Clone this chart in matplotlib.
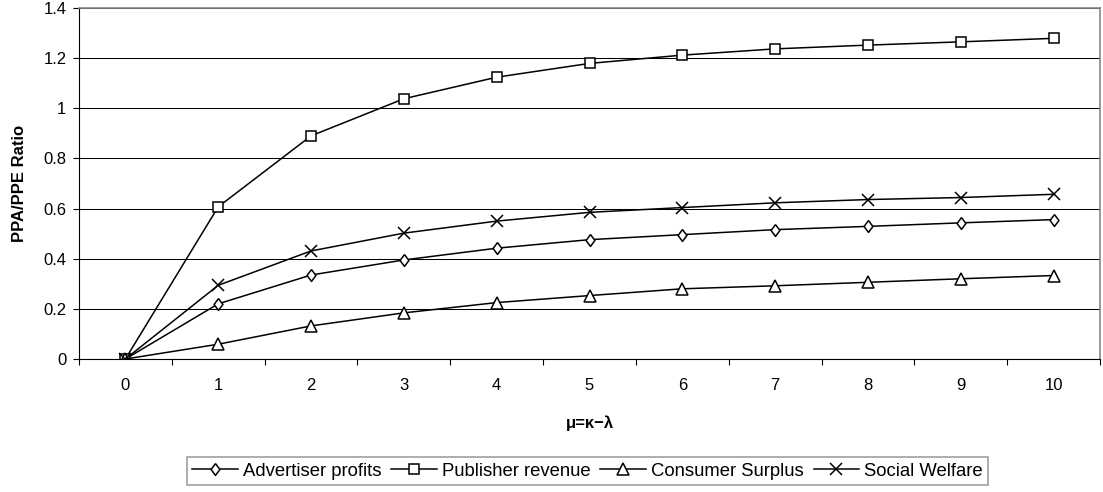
import matplotlib.pyplot as plt
import numpy as np

plt.rcParams['font.family'] = ['Liberation Sans', 'DejaVu Sans']

mu = [0, 1, 2, 3, 4, 5, 6, 7, 8, 9, 10]
advertiser = [0, 0.22, 0.335, 0.395, 0.442, 0.476, 0.496, 0.516, 0.529, 0.543, 0.556]
publisher = [0, 0.607, 0.89, 1.038, 1.124, 1.179, 1.212, 1.237, 1.252, 1.265, 1.279]
consumer = [0, 0.059, 0.132, 0.184, 0.225, 0.253, 0.28, 0.292, 0.306, 0.32, 0.333]
welfare = [0, 0.294, 0.431, 0.502, 0.55, 0.585, 0.604, 0.623, 0.636, 0.644, 0.657]

# slightly tall diamond, like the original
diamond = [(0, 1), (0.75, 0), (0, -1), (-0.75, 0), (0, 1)]

series = [
    ('Advertiser profits', advertiser, diamond, 8.5),
    ('Publisher revenue', publisher, 's', 7),
    ('Consumer Surplus', consumer, '^', 8.5),
    ('Social Welfare', welfare, 'x', 8),
]

fig = plt.figure(figsize=(11.03, 4.92), dpi=100)
ax = fig.add_axes([79 / 1103, 1 - 359 / 492, 1021 / 1103, 351 / 492])

for label, vals, m, ms in series:
    ax.plot(mu, vals, color='black', linewidth=1.1, marker=m, markersize=ms,
            markerfacecolor='white', markeredgecolor='black', markeredgewidth=1.1,
            label=label)

ax.set_xlim(-0.5, 10.5)
ax.set_ylim(0, 1.4)
ax.set_xticks(np.arange(-0.5, 11, 1))
ax.set_xticklabels([])
ax.set_xticks(mu, minor=True)
ax.set_xticklabels([str(v) for v in mu], minor=True)
ax.tick_params(axis='x', which='major', length=4, direction='out', width=0.8)
ax.tick_params(axis='x', which='minor', length=0, pad=14, labelsize=12)
ax.set_yticks([0, 0.2, 0.4, 0.6, 0.8, 1.0, 1.2, 1.4])
ax.set_yticklabels(['0', '0.2', '0.4', '0.6', '0.8', '1', '1.2', '1.4'])
ax.tick_params(axis='y', length=4, direction='out', labelsize=12, width=0.8, pad=5)
ax.grid(axis='y', color='black', linewidth=0.75)
ax.set_axisbelow(True)

ax.spines['top'].set_color('#888888')
ax.spines['right'].set_color('#888888')
ax.spines['top'].set_linewidth(1.2)
ax.spines['right'].set_linewidth(1.2)

ax.set_ylabel('PPA/PPE Ratio', fontsize=12, fontweight='bold', labelpad=12)
ax.set_xlabel('μ=κ−λ', fontsize=12, fontweight='bold', labelpad=16)

leg = fig.legend(loc='center', bbox_to_anchor=(0.5326, 0.0426), ncol=4, fontsize=13.3,
                 frameon=True, fancybox=False, edgecolor='#888888',
                 handlelength=2.45, columnspacing=0.55, handletextpad=0.27,
                 borderpad=0.32, borderaxespad=0)
leg.get_frame().set_linewidth(1.2)

fig.savefig('out.png', dpi=100)
